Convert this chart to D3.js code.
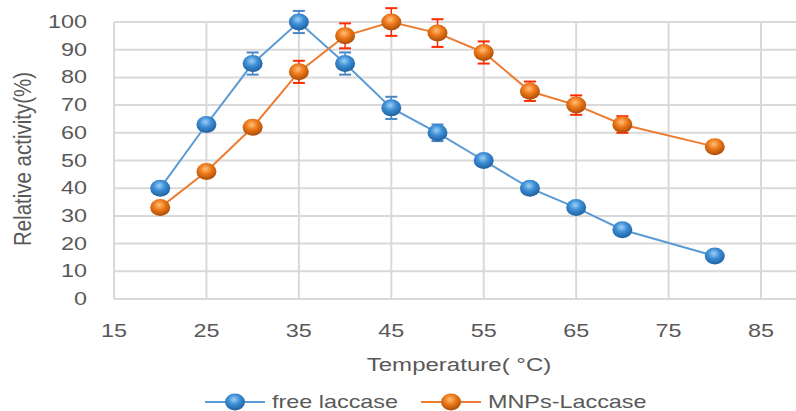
<!DOCTYPE html>
<html>
<head>
<meta charset="utf-8">
<script src="https://cdn.jsdelivr.net/npm/d3@7"></script>
<style>
  html, body { margin: 0; padding: 0; background: #fff; }
  text { font-family: "Liberation Sans", Arial, sans-serif; fill: #595959; }
</style>
</head>
<body>
<div id="chart"></div>
<script>
// temperatures (deg C)
var temps = [20, 25, 30, 35, 40, 45, 50, 55, 60, 65, 70, 80] ;
// relative activity (%)
var freeVals = [40, 63, 85, 100, 85, 69, 60, 50, 40, 33, 25, 15.5] ;
var freeErr  = [0.5, 1, 4, 4, 4, 4, 3, 1, 0.5, 0.5, 0.5, 0.5] ;
var mnpVals  = [33, 46, 62, 82, 95, 100, 96, 89, 75, 70, 63, 55] ;
var mnpErr   = [0.5, 1, 2, 4, 4.5, 5, 5, 4, 3.5, 3.5, 3, 1.5] ;
var xTicks = [15, 25, 35, 45, 55, 65, 75, 85] ;
var yTicks = [0, 10, 20, 30, 40, 50, 60, 70, 80, 90, 100] ;
var seriesNames = ['free laccase', 'MNPs-Laccase'] ;

var width = 796, height = 411 ;
var sx = 1.3 ; // horizontal stretch of the source picture

var svg = d3.select('#chart').append('svg').attr('width', width).attr('height', height) ;
var defs = svg.append('defs') ;

function ball(id, light, mid, dark) {
	var g = defs.append('radialGradient').attr('id', id).attr('cx', '45%').attr('cy', '35%').attr('r', '65%') ;
	g.append('stop').attr('offset', '0%').attr('stop-color', light) ;
	g.append('stop').attr('offset', '45%').attr('stop-color', mid) ;
	g.append('stop').attr('offset', '100%').attr('stop-color', dark) ;
}
ball('gBlue', '#9fd0f5', '#3d8fd6', '#1f5f9e') ;
ball('gOrange', '#ffc07a', '#ee7a1a', '#a94a08') ;

var x = d3.scaleLinear().domain([15, 85]).range([114, 761]) ;
var y = d3.scaleLinear().domain([0, 100]).range([299, 22]) ;

// grid
var grid = svg.append('g') ;
grid.selectAll('line.h').data(yTicks).enter().append('line')
	.attr('x1', x(15)).attr('x2', width)
	.attr('y1', function(d) { return y(d) ; }).attr('y2', function(d) { return y(d) ; })
	.attr('stroke', '#d9d9d9').attr('stroke-width', 2) ;
grid.selectAll('line.v').data(xTicks).enter().append('line')
	.attr('x1', function(d) { return x(d) ; }).attr('x2', function(d) { return x(d) ; })
	.attr('y1', y(100)).attr('y2', y(0))
	.attr('stroke', '#d9d9d9').attr('stroke-width', 2) ;

function stretched(sel, px, py) {
	return sel.attr('transform', 'translate(' + px + ',' + py + ') scale(' + sx + ',1)') ;
}

// y tick labels
yTicks.forEach(function(t) {
	stretched(svg.append('text'), 87, y(t) + 6)
		.attr('text-anchor', 'end').attr('font-size', 18).text(t) ;
}) ;
// x tick labels
xTicks.forEach(function(t) {
	stretched(svg.append('text'), x(t), 337)
		.attr('text-anchor', 'middle').attr('font-size', 18).text(t) ;
}) ;

// axis titles
svg.append('text')
	.attr('transform', 'translate(31,159) rotate(-90) scale(1,1.15)')
	.attr('text-anchor', 'middle').attr('font-size', 20.5).text('Relative activity(%)') ;
stretched(svg.append('text'), 459, 371)
	.attr('text-anchor', 'middle').attr('font-size', 18.5).text('Temperature( \u00B0C)') ;

var line = d3.line().x(function(d) { return x(d[0]) ; }).y(function(d) { return y(d[1]) ; }) ;

function drawSeries(vals, errs, lineColor, errColor, grad) {
	var pts = temps.map(function(t, i) { return [t, vals[i], errs[i]] ; }) ;
	svg.append('path').attr('d', line(pts)).attr('fill', 'none')
		.attr('stroke', lineColor).attr('stroke-width', 2) ;
	var eb = svg.append('g') ;
	pts.forEach(function(p) {
		var cx = x(p[0]), top = y(p[1] + p[2]), bot = y(p[1] - p[2]) ;
		eb.append('line').attr('x1', cx).attr('x2', cx).attr('y1', top).attr('y2', bot)
			.attr('stroke', errColor).attr('stroke-width', 1.5) ;
		[top, bot].forEach(function(yy) {
			eb.append('line').attr('x1', cx - 6).attr('x2', cx + 6).attr('y1', yy).attr('y2', yy)
				.attr('stroke', errColor).attr('stroke-width', 2) ;
		}) ;
	}) ;
	svg.append('g').selectAll('ellipse').data(pts).enter().append('ellipse')
		.attr('cx', function(d) { return x(d[0]) ; })
		.attr('cy', function(d) { return y(d[1]) ; })
		.attr('rx', 10).attr('ry', 8.5)
		.attr('fill', 'url(#' + grad + ')') ;
}

drawSeries(freeVals, freeErr, '#5b9bd5', '#4a86c5', 'gBlue') ;
drawSeries(mnpVals, mnpErr, '#ed7d31', '#ff2a00', 'gOrange') ;

// legend
var legend = [
	{ name: seriesNames[0], x0: 205, color: '#5b9bd5', grad: 'gBlue' },
	{ name: seriesNames[1], x0: 421, color: '#ed7d31', grad: 'gOrange' }
] ;
legend.forEach(function(l) {
	svg.append('line').attr('x1', l.x0).attr('x2', l.x0 + 60).attr('y1', 402).attr('y2', 402)
		.attr('stroke', l.color).attr('stroke-width', 2) ;
	svg.append('ellipse').attr('cx', l.x0 + 30).attr('cy', 402).attr('rx', 10).attr('ry', 8.5)
		.attr('fill', 'url(#' + l.grad + ')') ;
	stretched(svg.append('text'), l.x0 + 67, 408).attr('font-size', 18).text(l.name) ;
}) ;
</script>
</body>
</html>
